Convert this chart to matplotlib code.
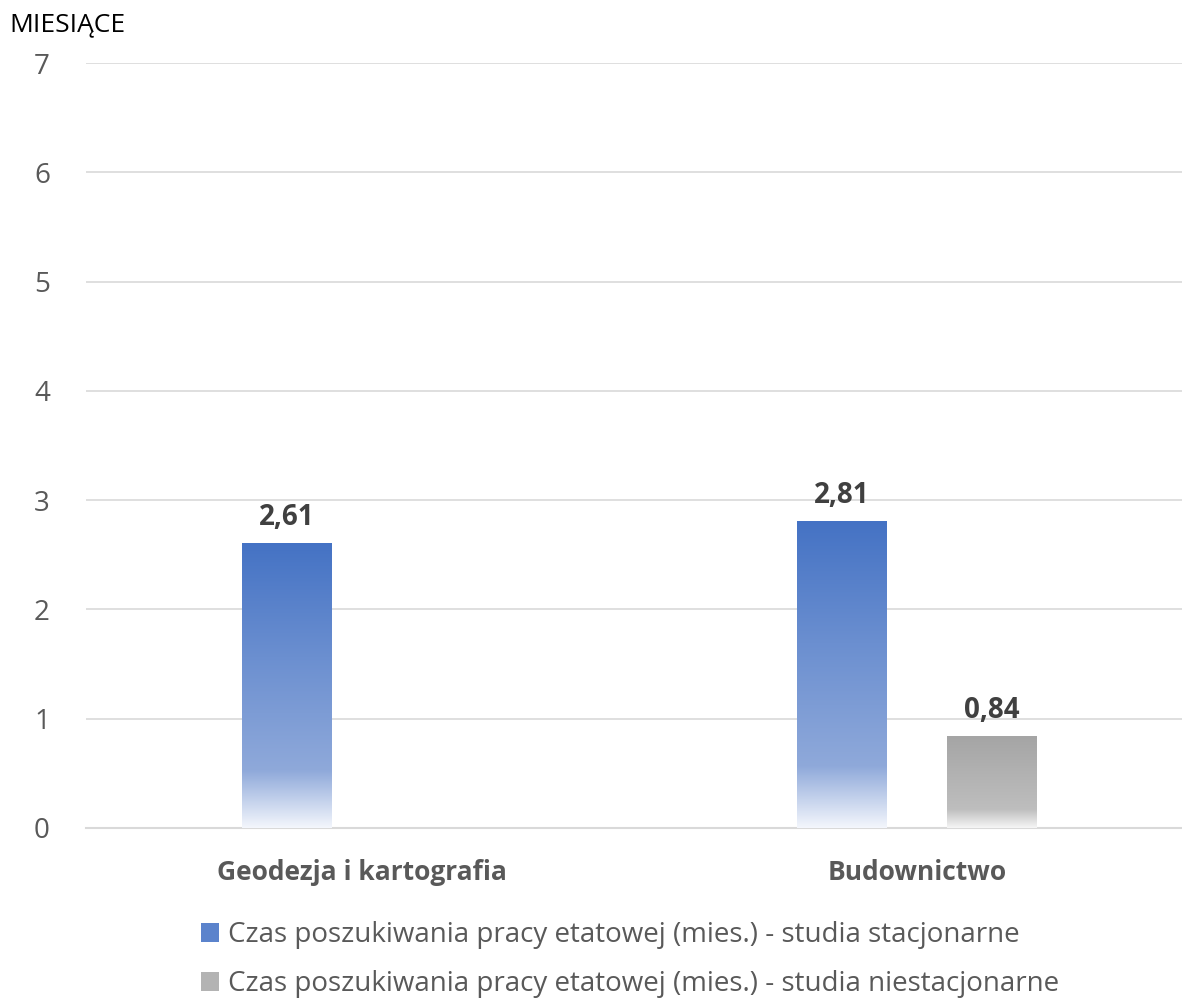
import numpy as np
import matplotlib.pyplot as plt
from matplotlib.colors import LinearSegmentedColormap
from matplotlib.patches import Patch

categories = ['Geodezja i kartografia', 'Budownictwo']
stacjonarne = [2.61, 2.81]
niestacjonarne = [None, 0.84]
series_names = ['Czas poszukiwania pracy etatowej (mies.) - studia stacjonarne',
                'Czas poszukiwania pracy etatowej (mies.) - studia niestacjonarne']

plt.rcParams['font.family'] = ['Open Sans', 'DejaVu Sans']

blue_cmap = LinearSegmentedColormap.from_list(
    'b', [(0, '#F3F6FC'), (0.2, '#8FA9DA'), (0.6, '#6B8FD0'), (1, '#4472C4')])
gray_cmap = LinearSegmentedColormap.from_list(
    'g', [(0, '#F6F6F6'), (0.2, '#BEBEBE'), (1, '#A5A5A5')])

fig = plt.figure(figsize=(11.82, 10.02), dpi=100)
ax = fig.add_axes([0.0728, 0.1737, 0.9272, 0.7633])

width = 0.162
offset = 0.135
grad = np.linspace(0, 1, 256).reshape(-1, 1)


def gradient_bar(x, h, cmap):
    bar = ax.bar(x, h, width, color='none', edgecolor='none', zorder=3)[0]
    im = ax.imshow(grad, cmap=cmap, origin='lower', aspect='auto',
                   extent=[x - width / 2, x + width / 2, 0, h], zorder=3)
    im.set_clip_path(bar)
    ax.annotate(f'{h:.2f}'.replace('.', ','), (x, h), xytext=(0, 8),
                textcoords='offset points', ha='center', va='bottom',
                fontsize=20, fontweight='bold', color='#404040')


for i, cat in enumerate(categories):
    gradient_bar(i - offset, stacjonarne[i], blue_cmap)
    if niestacjonarne[i] is not None:
        gradient_bar(i + offset, niestacjonarne[i], gray_cmap)

ax.set_xlim(-0.497, 1.477)
ax.set_ylim(0, 7)
ax.set_yticks(range(0, 8))
ax.set_xticks(range(len(categories)))
ax.set_xticklabels(categories, fontsize=19, fontweight='bold', color='#595959')
ax.tick_params(axis='y', labelsize=20, labelcolor='#595959', length=0, pad=26)
ax.tick_params(axis='x', length=0, pad=22)
ax.grid(axis='y', color='#D9D9D9', linewidth=1.2, zorder=0)
ax.set_axisbelow(True)
for s in ['top', 'right', 'left']:
    ax.spines[s].set_visible(False)
ax.spines['bottom'].set_color('#D9D9D9')
ax.spines['bottom'].set_linewidth(1.5)

fig.text(0.008, 0.975, 'MIESIĄCE', fontsize=19, color='black', va='center', ha='left')

handles = [Patch(facecolor='#5B83CC'), Patch(facecolor='#B3B3B3')]
fig.legend(handles, series_names, loc='center', bbox_to_anchor=(0.533, 0.042),
           ncol=1, frameon=False, fontsize=20, labelcolor='#595959',
           handlelength=0.65, handleheight=0.65, handletextpad=0.3, labelspacing=0.75)

fig.savefig('out.png', dpi=100)
